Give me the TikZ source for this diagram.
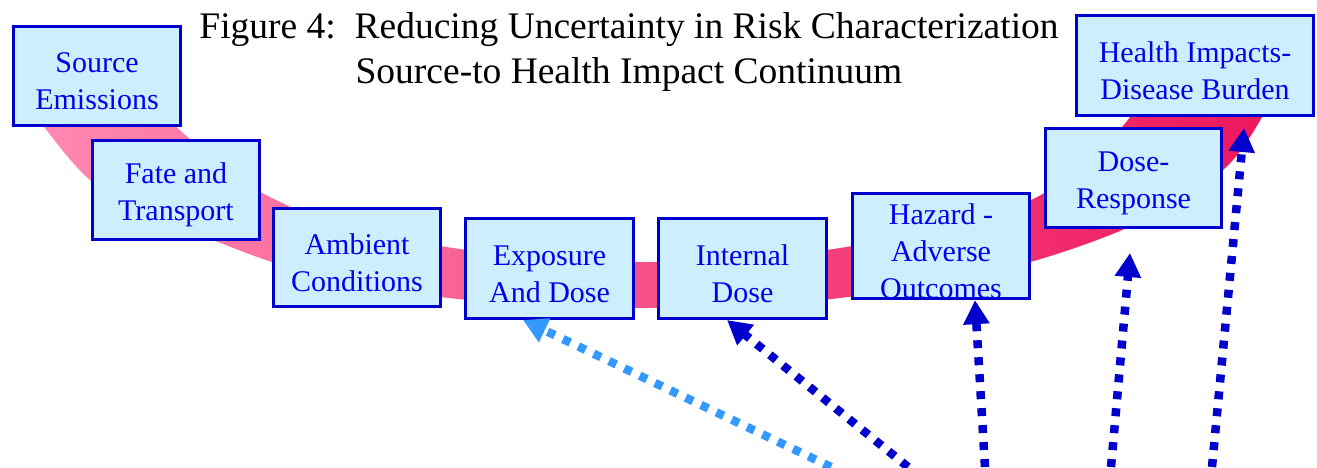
\documentclass[tikz,border=0pt]{standalone}
\usepackage{fontspec}
\setmainfont{Liberation Serif}
\usetikzlibrary{arrows.meta}
\definecolor{boxfill}{RGB}{204,238,255}
\definecolor{boxline}{RGB}{0,0,204}
\definecolor{boxtext}{RGB}{0,0,235}
\definecolor{arrdark}{RGB}{0,0,204}
\definecolor{arrlight}{RGB}{51,153,255}
\definecolor{bandL}{RGB}{255,138,180}
\definecolor{bandM}{RGB}{252,100,145}
\definecolor{bandR}{RGB}{238,22,92}
\begin{document}
\begin{tikzpicture}[x=1pt,y=-1pt,
  stage/.style={draw=boxline, line width=3pt, fill=boxfill, text=boxtext, align=center,
    inner sep=0pt, font=\fontsize{30}{37}\selectfont},
  probe/.style={line width=8.5pt, dash pattern=on 8pt off 9pt,
    -{Triangle[width=25pt,length=24pt]}}
]
\useasboundingbox (0,0) rectangle (1317,467);
\fill[white] (0,0) rectangle (1317,467);
% continuum band
\shade[left color=bandL, middle color=bandM, right color=bandR]
  plot[smooth] coordinates {(20,60) (30,100) (45,128) (90,180) (150,215) (213,240) (272,262)
    (350,283) (440,297) (545,306) (646,308) (740,306) (840,298) (940,282) (1044,258)
    (1140,222) (1223,170) (1262,117) (1280,70)}
  -- plot[smooth] coordinates {(1155,70) (1130,117) (1090,160) (1031,200) (940,228) (840,248)
    (740,259) (645,262) (545,258) (440,246) (330,222) (262,193) (225,168) (183,133)
    (150,100) (120,60)}
  -- cycle;
% title
\node[font=\fontsize{37.5}{45}\selectfont, align=center, anchor=base] (title) at (629,83)
  {Figure 4:\ \ Reducing Uncertainty in Risk Characterization\\Source-to Health Impact Continuum};
% stages
\node[stage, minimum width=167pt, minimum height=99pt] (src) at (97,76) {\rule{0pt}{31pt}Source\\Emissions};
\node[stage, minimum width=167pt, minimum height=99pt] (fate) at (176,190) {\rule{0pt}{31pt}Fate and\\Transport};
\node[stage, minimum width=167pt, minimum height=98pt] (amb) at (357,257.5) {\rule{0pt}{31pt}Ambient\\Conditions};
\node[stage, minimum width=168pt, minimum height=100pt] (expo) at (549.5,268.5) {\rule{0pt}{31pt}Exposure\\And Dose};
\node[stage, minimum width=168pt, minimum height=100pt] (intd) at (742.5,268.5) {\rule{0pt}{31pt}Internal\\Dose};
\node[stage, minimum width=177pt, minimum height=99pt] (haz) at (941,246) {\rule{0pt}{31pt}Hazard -\\Adverse\\Outcomes};
\node[stage, minimum width=176pt, minimum height=99pt] (dr) at (1133.5,178) {\rule{0pt}{31pt}Dose-\\Response};
\node[stage, minimum width=237pt, minimum height=100pt] (health) at (1195,65.5) {\rule{0pt}{31pt}Health Impacts-\\Disease Burden};
% arrows
\coordinate (t1) at (831,467);
\coordinate (t2) at (908,467);
\coordinate (t3) at (985,467);
\coordinate (t4) at (1111,467);
\coordinate (t5) at (1212,467);
\coordinate (drtip) at (1130,253);
\draw[probe, arrlight] (t1) -- ([xshift=-26.5pt]expo.south);
\draw[probe, arrdark] (t2) -- ([xshift=-15.5pt]intd.south);
\draw[probe, arrdark] (t3) -- ([xshift=34pt]haz.south);
\draw[probe, arrdark] (t4) -- (drtip);
\draw[probe, arrdark] (t5) -- ([xshift=49pt,yshift=-11pt]health.south);
\end{tikzpicture}
\end{document}
